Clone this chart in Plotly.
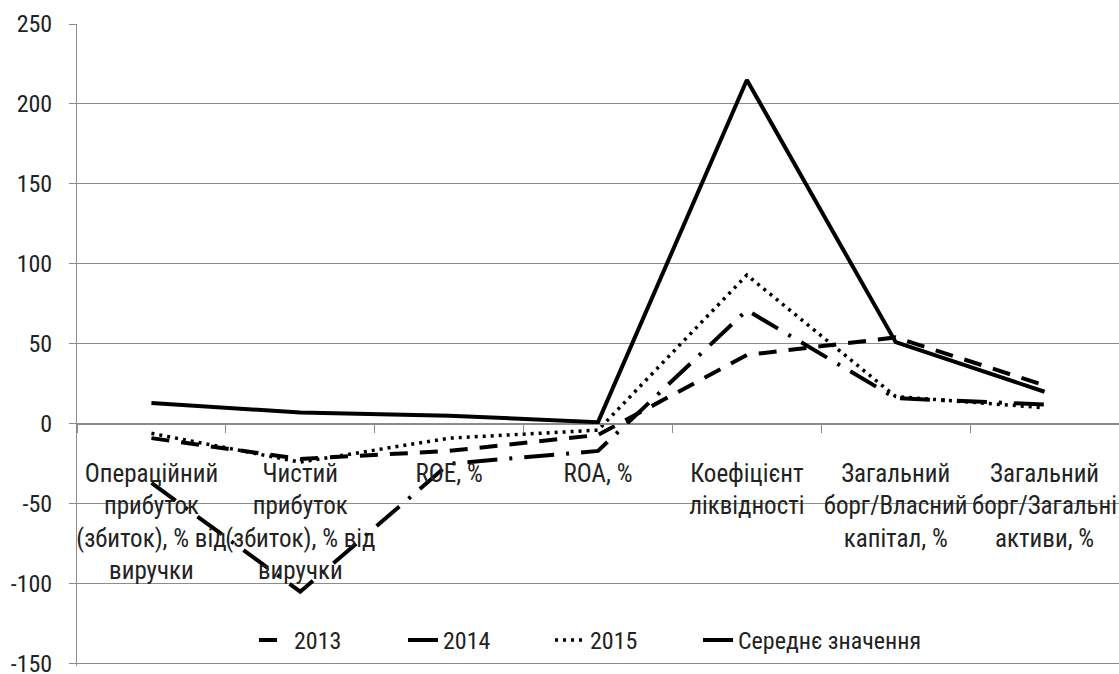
import plotly.graph_objects as go

categories = [
    "Операційний<br>прибуток<br>(збиток), % від<br>виручки",
    "Чистий<br>прибуток<br>(збиток), % від<br>виручки",
    "ROE, %",
    "ROA, %",
    "Коефіцієнт<br>ліквідності",
    "Загальний<br>борг/Власний<br>капітал, %",
    "Загальний<br>борг/Загальні<br>активи, %",
]
v2013 = [-9, -22, -17, -7, 43, 54, 24]
v2014 = [-37, -105, -25, -17, 71, 16, 12]
v2015 = [-6, -24, -9, -4, 93, 17, 10]
avg = [13, 7, 5, 1, 215, 51, 20]
series_names = ["2013", "2014", "2015", "Середнє значення"]
y_ticks = [-150, -100, -50, 0, 50, 100, 150, 200, 250]
y_tick_text = ["-150", "-100", "-50", "0", "50", "100", "150", "200", "250"]

FONT = "Roboto Condensed, Liberation Sans Narrow, DejaVu Sans Condensed, sans-serif"
GRID = "#8c8c8c"
TXT = "#222222"
Y_MIN, Y_MAX = -151.5, 250

fig = go.Figure()
styles = [
    dict(color="black", width=4, dash="18px,12px"),
    dict(color="black", width=4, dash="30px,12px,3px,12px"),
    dict(color="black", width=3.5, dash="3px,5px"),
    dict(color="black", width=4, dash="solid"),
]
legend_ids = ["legend", "legend2", "legend3", "legend4"]
legend_px = [254, 403, 550, 698]
for name, vals, st, lid in zip(series_names, [v2013, v2014, v2015, avg], styles, legend_ids):
    fig.add_trace(go.Scatter(x=categories, y=vals, mode="lines", name=name, line=st, legend=lid))

L, R_EDGE = 77, 1119
legend_layout = {}
for lid, px in zip(legend_ids, legend_px):
    legend_layout[lid] = dict(
        orientation="h", x=(px - L) / (R_EDGE - L), y=0.04, xanchor="left", yanchor="middle",
        font=dict(family=FONT, size=24, color=TXT), bgcolor="rgba(0,0,0,0)",
    )

fig.update_layout(
    width=1119, height=674,
    margin=dict(l=L, r=0, t=24, b=8),
    paper_bgcolor="white", plot_bgcolor="white",
    font=dict(family=FONT, color=TXT, size=24),
    showlegend=True,
    xaxis=dict(
        type="category", range=[-0.5, 6.5], automargin=False,
        anchor="free", position=(0 - Y_MIN) / (Y_MAX - Y_MIN),
        showgrid=False, showline=True, linecolor=GRID, linewidth=1,
        ticks="outside", tickson="boundaries", ticklen=8, tickcolor=GRID,
        tickangle=0,
        tickfont=dict(family=FONT, size=25, color=TXT),
        ticklabelstandoff=27,
        zeroline=False,
    ),
    yaxis=dict(
        range=[Y_MIN, Y_MAX], tickvals=y_ticks, ticktext=y_tick_text, automargin=False,
        showgrid=True, gridcolor=GRID, gridwidth=1,
        zeroline=True, zerolinecolor=GRID, zerolinewidth=1,
        showline=True, linecolor=GRID, linewidth=1,
        ticks="outside", ticklen=7, tickcolor=GRID,
        tickfont=dict(family=FONT, size=24, color=TXT),
        ticklabelstandoff=12, ticklabeloverflow="allow",
    ),
    **legend_layout,
)

fig.write_html(
    "out.html",
    config={"displayModeBar": False},
    post_script="document.body.style.margin='0';document.body.style.overflow='hidden';",
)
